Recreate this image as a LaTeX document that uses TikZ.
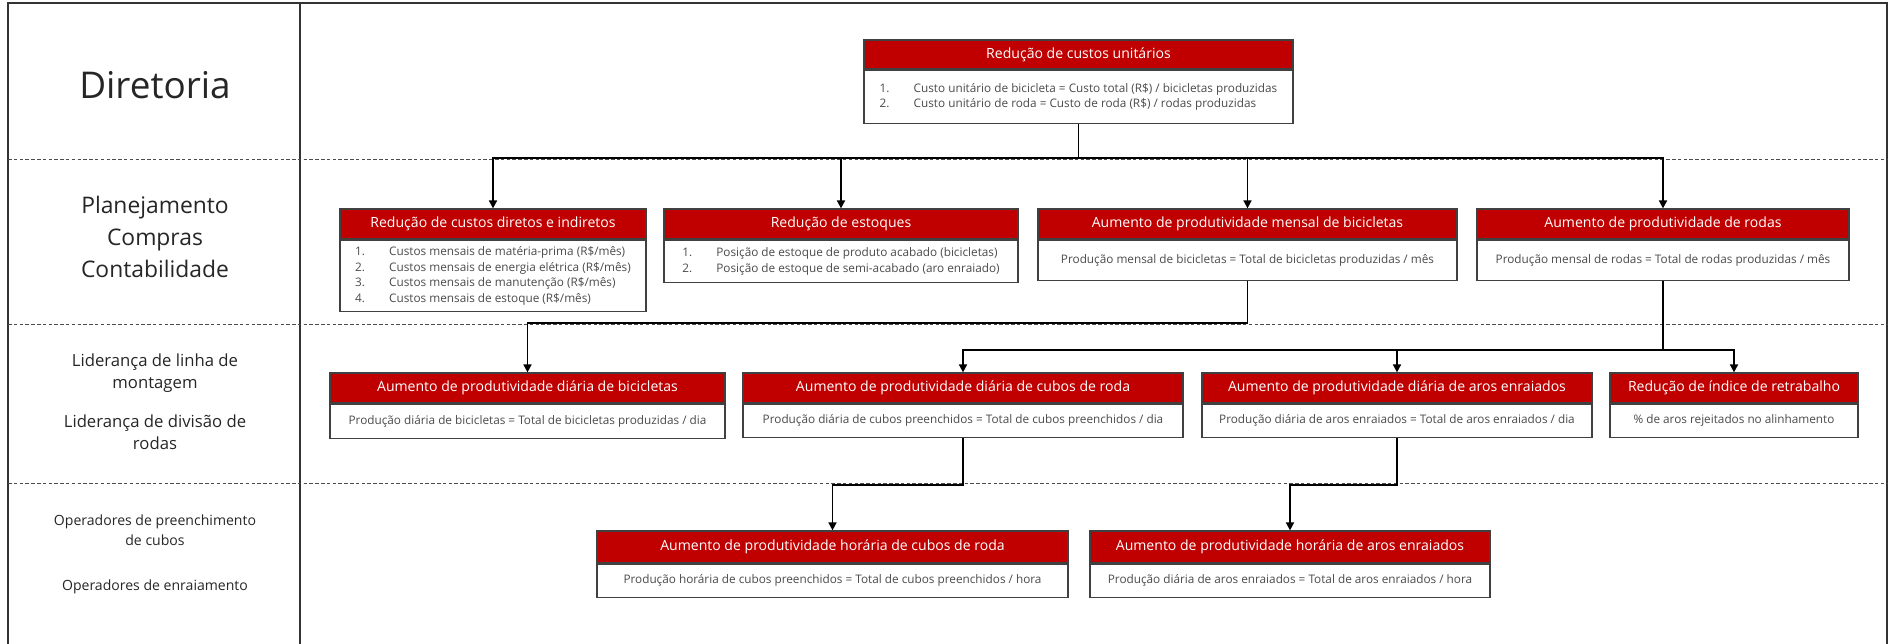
\documentclass[tikz,border=0pt]{standalone}
\usepackage{fontspec}
\setmainfont{Open Sans}
\usetikzlibrary{arrows.meta, positioning}

\definecolor{hdrred}{RGB}{192,0,0}
\definecolor{boxgray}{RGB}{64,64,64}
\definecolor{txtgray}{RGB}{75,75,75}
\newcommand{\itm}[1]{\makebox[0.68cm][l]{#1}}

\begin{document}
\begin{tikzpicture}[
  x=0.02cm, y=-0.02cm,
  hdr/.style={draw=boxgray, fill=hdrred, text=white, inner sep=0pt, line width=0.7pt, minimum height=0.6cm, font=\fontsize{8}{9.6}\selectfont},
  bodyl/.style={draw=boxgray, fill=white, text=txtgray, inner xsep=0.2cm, inner ysep=0pt, line width=0.7pt, align=left, font=\fontsize{6.7}{8.8}\selectfont},
  bodyc/.style={bodyl, align=center},
  lvl/.style={align=center, text=black!85},
  flow/.style={-{Triangle[length=4.5pt, width=4.5pt]}, line width=1pt, black},
  frame/.style={line width=0.6pt, black!80},
  sepline/.style={line width=0.5pt, black!70, dash pattern=on 2pt off 1.3pt}
]
\useasboundingbox (0,0) rectangle (1891,644);

% lanes
\draw[frame] (8,644) -- (8,3) -- (1887,3) -- (1887,644);
\draw[frame] (300,3) -- (300,644);
\draw[sepline] (8,159) -- (1887,159);
\draw[sepline] (8,324) -- (1887,324);
\draw[sepline] (8,483) -- (1887,483);

\node[lvl, font=\fontsize{21}{25}\selectfont] (Dir) at (155,85) {Diretoria};
\node[lvl, font=\fontsize{13}{18}\selectfont] (Plan) at (155,237) {Planejamento\\Compras\\Contabilidade};
\node[lvl, font=\fontsize{9.5}{12.5}\selectfont] (LidLinha) at (155,373.5) {Liderança de linha de\\montagem};
\node[lvl, font=\fontsize{9.5}{12.5}\selectfont] (LidRoda) at (155,432.5) {Liderança de divisão de\\rodas};
\node[lvl, font=\fontsize{8}{11.3}\selectfont] (OpCubo) at (155,530) {Operadores de preenchimento\\de cubos};
\node[lvl, font=\fontsize{8}{11.3}\selectfont] (OpEnr) at (155,587) {Operadores de enraiamento};

% Diretoria
\node[hdr, minimum width=8.58cm, minimum height=0.58cm] (Th) at (1078.5,54.5) {Redução de custos unitários};
\node[bodyl, minimum width=8.58cm, minimum height=1.06cm, below=0pt of Th] (Tb) {\itm{1.}Custo unitário de bicicleta = Custo total (R\$) / bicicletas produzidas\\\itm{2.}Custo unitário de roda = Custo de roda (R\$) / rodas produzidas};

% Planejamento
\node[hdr, minimum width=6.12cm] (Ah) at (493,224) {Redução de custos diretos e indiretos};
\node[bodyl, minimum width=6.12cm, minimum height=1.42cm, below=0pt of Ah] (Ab) {\itm{1.}Custos mensais de matéria-prima (R\$/mês)\\\itm{2.}Custos mensais de energia elétrica (R\$/mês)\\\itm{3.}Custos mensais de manutenção (R\$/mês)\\\itm{4.}Custos mensais de estoque (R\$/mês)};

\node[hdr, minimum width=7.08cm] (Bh) at (841,224) {Redução de estoques};
\node[bodyl, minimum width=7.08cm, minimum height=0.84cm, below=0pt of Bh] (Bb) {\itm{1.}Posição de estoque de produto acabado (bicicletas)\\\itm{2.}Posição de estoque de semi-acabado (aro enraiado)};

\node[hdr, minimum width=8.38cm] (Ch) at (1247.5,224) {Aumento de produtividade mensal de bicicletas};
\node[bodyc, minimum width=8.38cm, minimum height=0.8cm, below=0pt of Ch] (Cb) {Produção mensal de bicicletas = Total de bicicletas produzidas / mês};

\node[hdr, minimum width=7.44cm] (Dh) at (1663,224) {Aumento de produtividade de rodas};
\node[bodyc, minimum width=7.44cm, minimum height=0.8cm, below=0pt of Dh] (Db) {Produção mensal de rodas = Total de rodas produzidas / mês};

% Lideranca
\node[hdr, minimum width=7.9cm] (Eh) at (527.5,388) {Aumento de produtividade diária de bicicletas};
\node[bodyc, minimum width=7.9cm, minimum height=0.68cm, below=0pt of Eh] (Eb) {Produção diária de bicicletas = Total de bicicletas produzidas / dia};

\node[hdr, minimum width=8.8cm] (Fh) at (963,388) {Aumento de produtividade diária de cubos de roda};
\node[bodyc, minimum width=8.8cm, minimum height=0.66cm, below=0pt of Fh] (Fb) {Produção diária de cubos preenchidos = Total de cubos preenchidos / dia};

\node[hdr, minimum width=7.8cm] (Gh) at (1397,388) {Aumento de produtividade diária de aros enraiados};
\node[bodyc, minimum width=7.8cm, minimum height=0.66cm, below=0pt of Gh] (Gb) {Produção diária de aros enraiados = Total de aros enraiados / dia};

\node[hdr, minimum width=4.96cm] (Hh) at (1734,388) {Redução de índice de retrabalho};
\node[bodyc, minimum width=4.96cm, minimum height=0.66cm, below=0pt of Hh] (Hb) {\% de aros rejeitados no alinhamento};

% Operadores
\node[hdr, minimum width=9.42cm, minimum height=0.64cm] (Ih) at (832.5,547) {Aumento de produtividade horária de cubos de roda};
\node[bodyc, minimum width=9.42cm, minimum height=0.66cm, below=0pt of Ih] (Ib) {Produção horária de cubos preenchidos = Total de cubos preenchidos / hora};

\node[hdr, minimum width=8cm, minimum height=0.64cm] (Jh) at (1290,547) {Aumento de produtividade horária de aros enraiados};
\node[bodyc, minimum width=8cm, minimum height=0.66cm, below=0pt of Jh] (Jb) {Produção diária de aros enraiados = Total de aros enraiados / hora};

% connectors
\coordinate (bus1) at (0,158);
\coordinate (bus2) at (0,323);
\coordinate (bus3) at (0,350);
\coordinate (bus4) at (0,485);

\draw[flow] (Tb.south) -- (Tb.south |- bus1) -| (Ah.north);
\draw[flow] (Tb.south) -- (Tb.south |- bus1) -| (Bh.north);
\draw[flow] (Tb.south) -- (Tb.south |- bus1) -| (Ch.north);
\draw[flow] (Tb.south) -- (Tb.south |- bus1) -| (Dh.north);

\draw[flow] (Cb.south) -- (Cb.south |- bus2) -| (Eh.north);

\draw[flow] (Db.south) -- (Db.south |- bus3) -| (Fh.north);
\draw[flow] (Db.south) -- (Db.south |- bus3) -| (Gh.north);
\draw[flow] (Db.south) -- (Db.south |- bus3) -| (Hh.north);

\draw[flow] (Fb.south) -- (Fb.south |- bus4) -| (Ih.north);
\draw[flow] (Gb.south) -- (Gb.south |- bus4) -| (Jh.north);
\end{tikzpicture}
\end{document}
